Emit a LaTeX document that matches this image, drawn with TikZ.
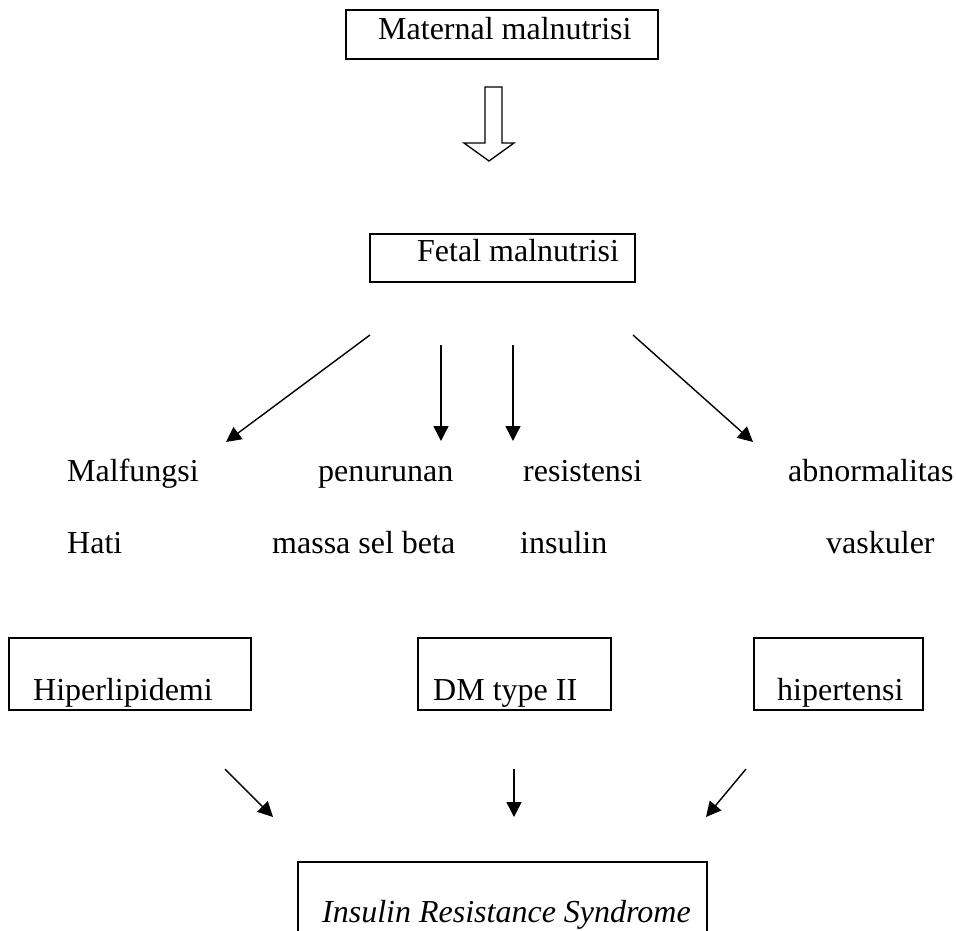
\documentclass[tikz,border=0pt]{standalone}
\usepackage{fontspec}
\setmainfont{Liberation Serif}
\usetikzlibrary{arrows.meta}
\begin{document}
\begin{tikzpicture}[x=1pt,y=-1pt,
  box/.style={draw, line width=1.5pt, inner sep=0pt, anchor=north west},
  lbl/.style={anchor=base west, inner sep=0pt, font=\fontsize{32}{38}\selectfont},
  arr/.style={line width=1.4pt, -{Triangle[length=15pt,width=15pt]}}]
\useasboundingbox (0,0) rectangle (956,930);
\clip (0,0) rectangle (956,930);
% boxes
\node[box, minimum width=312pt, minimum height=49pt] (mat) at (345,9) {};
\node[lbl] (matt) at (378,39) {Maternal malnutrisi};
\node[box, minimum width=265pt, minimum height=48pt] (fet) at (369,233) {};
\node[lbl] (fett) at (417,261) {Fetal malnutrisi};
% hollow arrow
\draw[line width=1.3pt, line join=miter] (485,87) -- (502,87) -- (502,143) -- (514,143) -- (489,161) -- (464,143) -- (485,143) -- cycle;
% arrows from fetal
\coordinate (s1) at (370,335); \coordinate (e1) at (226,442);
\coordinate (s2) at (441,345); \coordinate (e2) at (441,441);
\coordinate (s3) at (513,345); \coordinate (e3) at (513,441);
\coordinate (s4) at (633,335); \coordinate (e4) at (753,442);
\draw[arr] (s1) -- (e1);
\draw[arr] (s2) -- (e2);
\draw[arr] (s3) -- (e3);
\draw[arr] (s4) -- (e4);
% labels row 1 and 2
\node[lbl] (l1a) at (67,481) {Malfungsi};
\node[lbl] (l2a) at (318,481) {penurunan};
\node[lbl] (l3a) at (523,481) {resistensi};
\node[lbl] (l4a) at (788,481) {abnormalitas};
\node[lbl] (l1b) at (67,553) {Hati};
\node[lbl] (l2b) at (272,553) {massa sel beta};
\node[lbl] (l3b) at (520,553) {insulin};
\node[lbl] (l4b) at (826,553) {vaskuler};
% result boxes
\node[box, minimum width=242pt, minimum height=72pt] (hip) at (8,637) {};
\node[lbl] (hipt) at (33,700) {Hiperlipidemi};
\node[box, minimum width=193pt, minimum height=72pt] (dm) at (417,637) {};
\node[lbl] (dmt) at (433,700) {DM type II};
\node[box, minimum width=169pt, minimum height=72pt] (hyp) at (753,637) {};
\node[lbl] (hypt) at (777,700) {hipertensi};
% arrows to bottom
\coordinate (b1) at (225,769); \coordinate (f1) at (273,817);
\coordinate (b2) at (514,769); \coordinate (f2) at (514,817);
\coordinate (b3) at (746,769); \coordinate (f3) at (706,817);
\draw[arr] (b1) -- (f1);
\draw[arr] (b2) -- (f2);
\draw[arr] (b3) -- (f3);
% bottom box
\node[box, minimum width=409pt, minimum height=80pt] (irs) at (297,861) {};
\node[lbl, font=\fontsize{32}{38}\selectfont\itshape] (irst) at (322,922) {Insulin Resistance Syndrome};
\end{tikzpicture}
\end{document}
